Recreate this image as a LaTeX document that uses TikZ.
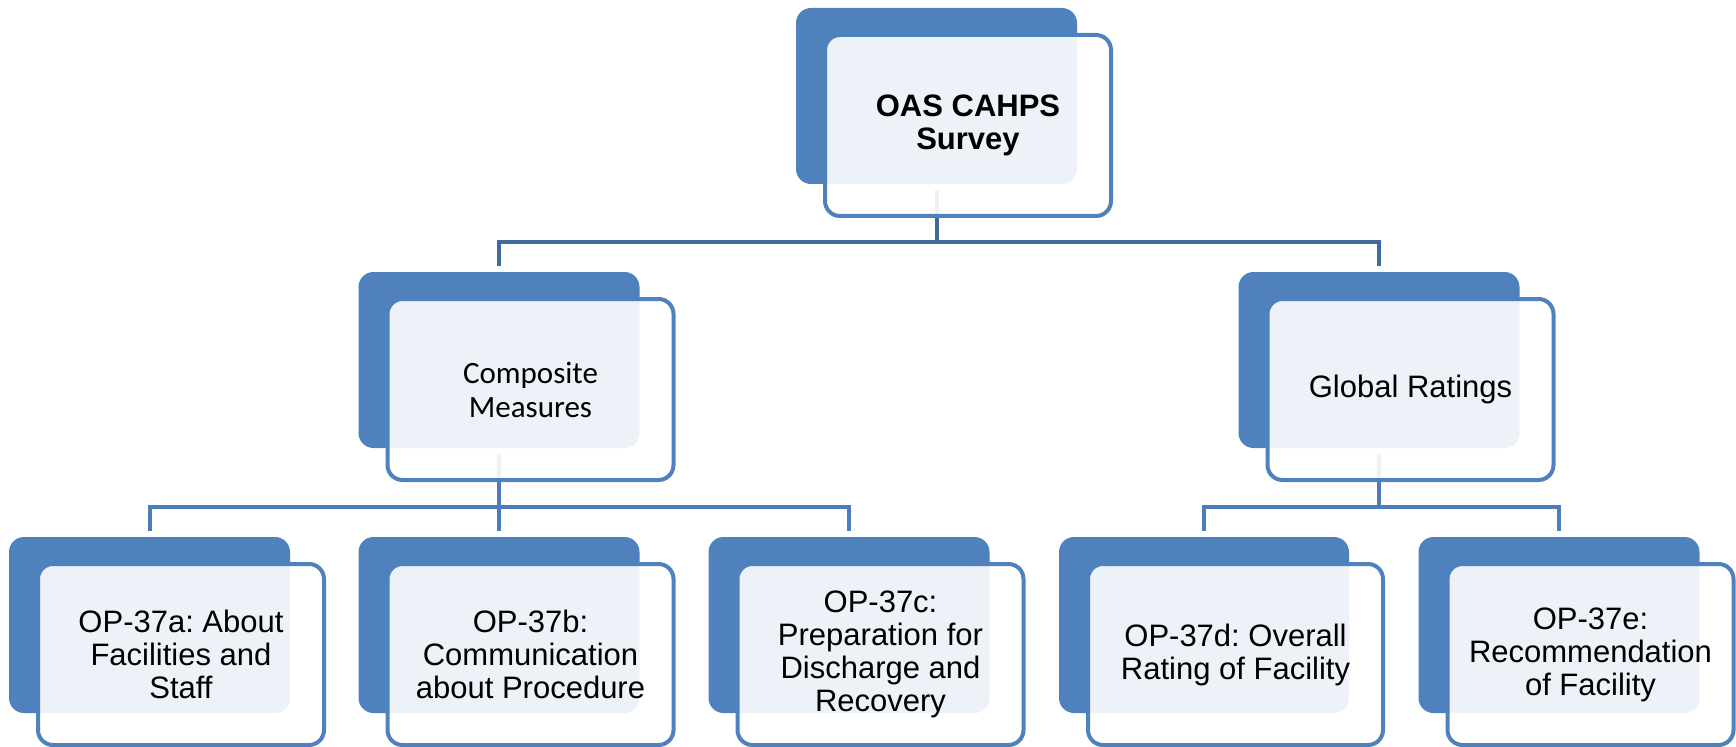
\documentclass[tikz,border=0pt]{standalone}
\usepackage{fontspec}
\setmainfont{Liberation Sans}
\newfontfamily\calibri{Carlito}
\definecolor{boxblue}{RGB}{79,129,189}
\definecolor{linkdark}{RGB}{65,106,156}
\definecolor{linkblue}{RGB}{76,125,185}
\frenchspacing

\begin{document}
\begin{tikzpicture}[x=0.5pt,y=0.5pt,
        back/.style={fill=boxblue, rounded corners=7.5pt, inner sep=0pt, outer sep=0pt,
            minimum width=140.5pt, minimum height=88pt},
        front/.style={draw=boxblue, line width=2pt, fill=white, fill opacity=0.9, text opacity=1,
            rounded corners=7.5pt, inner sep=0pt, outer sep=0pt, minimum width=143pt,
            minimum height=90.5pt, align=center, anchor=north west,
            font=\fontsize{15.5}{16.5}\selectfont},
        linkA/.style={draw=linkdark, line width=2pt},
        linkB/.style={draw=linkblue, line width=2pt}]
                \useasboundingbox (0,0) rectangle (1736,746);

                \node[back] (S) at (936.5,650) {};
                \node[back] (C) at (499,386) {};
                \node[back] (G) at (1379,386) {};
                \node[back] (Q1) at (149.5,121) {};
                \node[back] (Q2) at (499,121) {};
                \node[back] (Q3) at (849,121) {};
                \node[back, minimum width=145pt] (Q4) at (1204,121) {};
                \node[back] (Q5) at (1559,121) {};

                \coordinate (Sbar) at ([shift={(0,-58)}]S.south);
                \coordinate (Cbar) at ([shift={(0,-59)}]C.south);
                \coordinate (Gbar) at ([shift={(0,-59)}]G.south);

                \draw[linkA, shorten <=3pt] (S.south) -- (Sbar);
                \draw[linkA, shorten <=3pt, shorten >=3pt] (C.north) |- (Sbar) -| (G.north);

                \draw[linkB, shorten <=3pt] (C.south) -- (Cbar);
                \draw[linkB, shorten <=3pt, shorten >=3pt] (Q1.north) |- (Cbar) -| (Q3.north);
                \draw[linkB, shorten >=3pt] (Cbar) -- (Q2.north);
                \draw[linkB, shorten <=3pt] (G.south) -- (Gbar);
                \draw[linkB, shorten <=3pt, shorten >=3pt] (Q4.north) |- (Gbar) -| (Q5.north);

                \node[front, font=\fontsize{15.5}{16.5}\selectfont\bfseries] (FS) at ([shift={(29,-27)}]S.north west) {OAS CAHPS\\Survey};
                \node[front, font=\calibri\fontsize{15.5}{17}\selectfont] (FC) at ([shift={(29,-27)}]C.north west) {Composite\\Measures};
                \node[front] (FG) at ([shift={(29,-27)}]G.north west) {Global Ratings};
                \node[front] (FQ1) at ([shift={(29,-27)}]Q1.north west) {OP-37a: About\\Facilities and\\Staff};
                \node[front] (FQ2) at ([shift={(29,-27)}]Q2.north west) {OP-37b:\\Communication\\about Procedure};
                \node[front] (FQ3) at ([shift={(29,-27)}]Q3.north west) {OP-37c:\\Preparation for\\Discharge and\\Recovery};
                \node[front, minimum width=147.5pt] (FQ4) at ([shift={(29,-27)}]Q4.north west) {OP-37d: Overall\\Rating of Facility};
                \node[front] (FQ5) at ([shift={(29,-27)}]Q5.north west) {OP-37e:\\Recommendation\\of Facility};
            \end{tikzpicture}
\end{document}
